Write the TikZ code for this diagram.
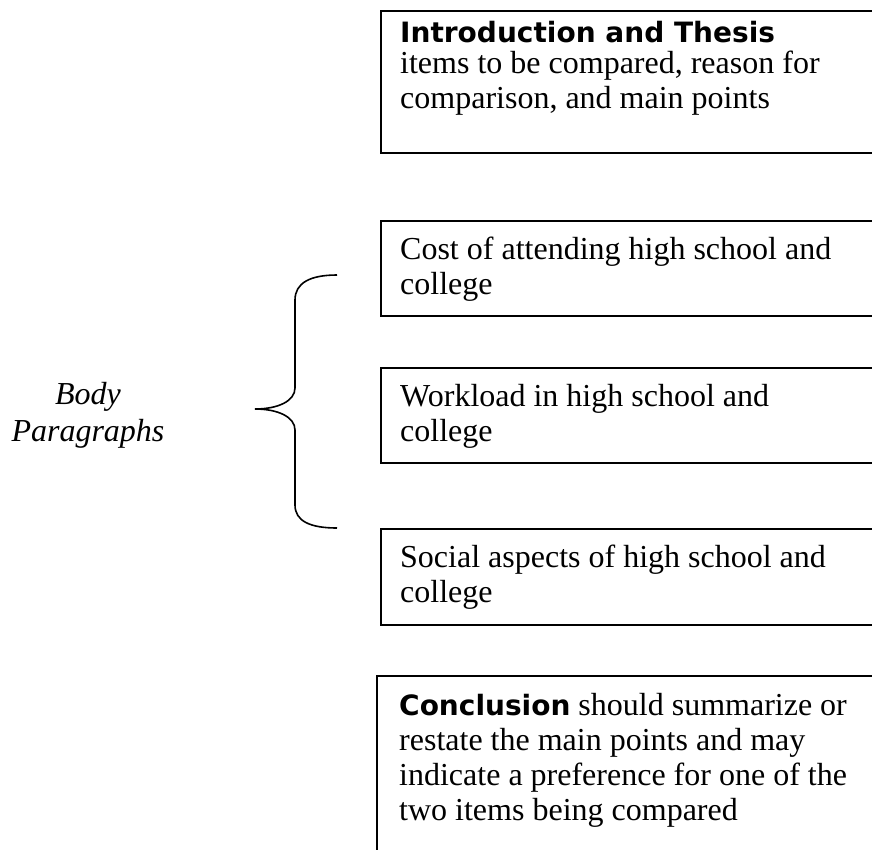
\documentclass[tikz,border=0pt]{standalone}
\usepackage{fontspec}
\setmainfont{Liberation Serif}
\newfontfamily\headfont{DejaVu Sans}
\usetikzlibrary{positioning}
\begin{document}
\begin{tikzpicture}[x=1pt, y=-1pt,
  box/.style={draw, line width=1.7pt, inner sep=0pt, anchor=north west, minimum width=560pt},
  txt/.style={inner sep=0pt, anchor=north west, align=left, font=\fontsize{32}{35}\selectfont},
  lbl/.style={inner sep=0pt, anchor=north, align=center, font=\fontsize{32}{35}\selectfont\itshape}]
\useasboundingbox (0,0) rectangle (872,849);
\clip (0,0) rectangle (872,849);
% boxes down the right side
\node[box, minimum height=142pt] (intro) at (380,10) {};
\node[box, minimum height=95pt] (cost) at (380,220) {};
\node[box, minimum height=95pt] (work) at (380,367) {};
\node[box, minimum height=96pt] (social) at (380,528) {};
\node[box, minimum height=260pt] (concl) at (376,675) {};
% texts in the boxes
\node[txt, below right=8pt and 20pt of intro.north west] (introtxt)
  {\strut{\headfont\bfseries\fontsize{28}{30}\selectfont Introduction and Thesis}\\[-4pt]
   items to be compared, reason for\\ comparison, and main points};
\node[txt, below right=15pt and 20pt of cost.north west] (costtxt)
  {\strut Cost of attending high school and\\ college};
\node[txt, below right=15pt and 20pt of work.north west] (worktxt)
  {\strut Workload in high school and\\ college};
\node[txt, below right=15pt and 20pt of social.north west] (socialtxt)
  {\strut Social aspects of high school and\\ college};
\node[txt, below right=16pt and 23pt of concl.north west] (concltxt)
  {\strut{\headfont\bfseries\fontsize{28}{30}\selectfont Conclusion} should summarize or\\
   restate the main points and may\\ indicate a preference for one of the\\
   two items being compared};
% brace and its label
\node[lbl] (body) at (88,380) {\strut Body\\[2pt] Paragraphs};
\coordinate (bracetop) at (337,275);
\coordinate (bracetip) at (255,409);
\coordinate (bracebot) at (337,528);
\draw[line width=1.6pt] (bracetop) .. controls (310,275) and (295,283) .. (295,300)
  -- (295,388) .. controls (295,401) and (278,409) .. (bracetip)
  .. controls (278,409) and (295,417) .. (295,430)
  -- (295,505) .. controls (295,521) and (310,528) .. (bracebot);
\end{tikzpicture}
\end{document}
